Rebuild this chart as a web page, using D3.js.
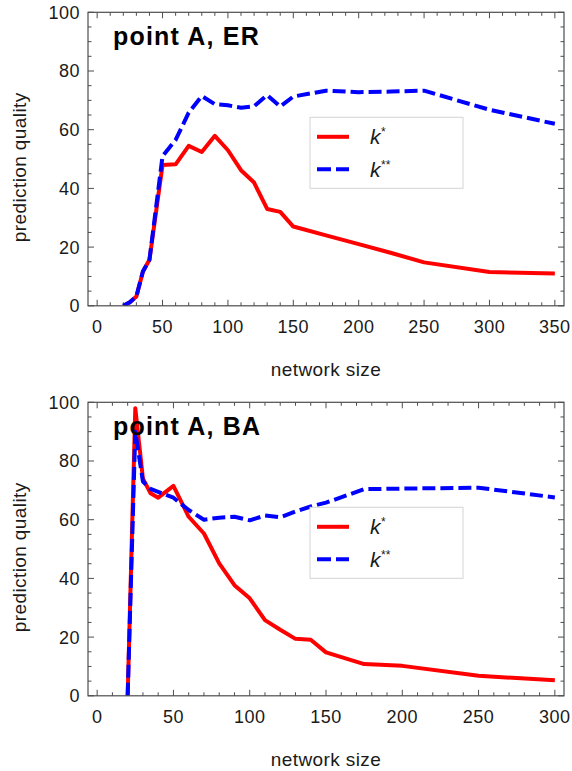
<!DOCTYPE html>
<html>
<head>
<meta charset="utf-8">
<script src="https://cdn.jsdelivr.net/npm/d3@7"></script>
<style>
  html, body { margin: 0; padding: 0; background: #fff; }
  svg text { font-family: "Liberation Sans", Arial, sans-serif; fill: #1a1a1a; }
</style>
</head>
<body>
<div id="chart"></div>
<script>
// network sizes and prediction quality
var erSizes   = [20, 25, 30, 35, 40, 50, 60, 70, 80, 90, 100, 110, 120, 130, 140, 150, 175, 200, 225, 250, 300, 350];
var erKStar   = [0, 1.2, 3.2, 11.7, 15.7, 48, 48.2, 54.5, 52.4, 57.9, 53, 46.2, 42, 33, 32, 27, 24, 21, 18, 14.8, 11.5, 11];
var erKStar2  = [0, 1.2, 3.2, 11.7, 15.7, 51, 56.5, 65.8, 71.5, 68.7, 68.3, 67.5, 68, 71.8, 67.9, 71.3, 73.3, 72.8, 73, 73.3, 66.8, 62];

var baSizes   = [20, 25, 30, 35, 40, 50, 60, 70, 80, 90, 100, 110, 120, 130, 140, 150, 175, 200, 250, 300];
var baKStar   = [0, 98, 74, 69, 67.5, 71.5, 61, 55.3, 45.1, 37.7, 33.2, 25.8, 22.5, 19.4, 19.1, 14.8, 10.8, 10.2, 6.8, 5.3];
var baKStar2  = [0, 90, 73, 70.5, 69.5, 67.5, 63.3, 60, 60.7, 61, 59.8, 61.4, 60.8, 62.8, 64.5, 65.8, 70.4, 70.6, 70.9, 67.6];

var yTicks = [0, 20, 40, 60, 80, 100];
var seriesNames = ["k", "k"];
var seriesSup = ["*", "**"];

var width = 572,
    height = 771;

var svg = d3.select("#chart")
  .append("svg")
  .attr("width", width)
  .attr("height", height);

var panels = [
  { title: "point A, ER", top: 12.3, xMax: 350, sizes: erSizes, a: erKStar, b: erKStar2, id: "er" },
  { title: "point A, BA", top: 402.3, xMax: 300, sizes: baSizes, a: baKStar, b: baKStar2, id: "ba" }
];

var frameColor = "#4d4d4d";

panels.forEach(function(p) {
  var left = 88, right = 564,
      top = p.top, bottom = p.top + 293.5;
  var pad = p.xMax * 0.02;

  var x = d3.scaleLinear().domain([-pad, p.xMax + pad]).range([left, right]);
  var y = d3.scaleLinear().domain([0, 100]).range([bottom, top]);

  var g = svg.append("g");

  g.append("clipPath").attr("id", "clip-" + p.id)
    .append("rect")
    .attr("x", left).attr("y", top - 2)
    .attr("width", right - left).attr("height", bottom - top + 2);

  // frame ticks, inward on all four sides
  var xMajor = d3.range(0, p.xMax + 1, 50),
      xMinor = d3.range(0, p.xMax + 1, 10).filter(function(d) { return d % 50 !== 0; }),
      yMinor = d3.range(0, 101, 5).filter(function(d) { return d % 20 !== 0; });

  var ticks = g.append("g")
    .attr("stroke", frameColor)
    .attr("stroke-width", 1);

  [[xMajor, 6], [xMinor, 3.5]].forEach(function(t) {
    ticks.selectAll(null).data(t[0]).enter().append("line")
      .attr("x1", function(d) { return x(d); }).attr("x2", function(d) { return x(d); })
      .attr("y1", bottom).attr("y2", bottom - t[1]);
    ticks.selectAll(null).data(t[0]).enter().append("line")
      .attr("x1", function(d) { return x(d); }).attr("x2", function(d) { return x(d); })
      .attr("y1", top).attr("y2", top + t[1]);
  });
  [[yTicks, 6], [yMinor, 3.5]].forEach(function(t) {
    ticks.selectAll(null).data(t[0]).enter().append("line")
      .attr("y1", function(d) { return y(d); }).attr("y2", function(d) { return y(d); })
      .attr("x1", left).attr("x2", left + t[1]);
    ticks.selectAll(null).data(t[0]).enter().append("line")
      .attr("y1", function(d) { return y(d); }).attr("y2", function(d) { return y(d); })
      .attr("x1", right).attr("x2", right - t[1]);
  });

  // tick labels
  g.selectAll(".xlab").data(xMajor).enter().append("text")
    .attr("class", "xlab")
    .attr("x", function(d) { return x(d); })
    .attr("y", bottom + 27)
    .attr("text-anchor", "middle")
    .style("font-size", "18px")
    .style("letter-spacing", "0.5px")
    .text(function(d) { return d; });

  g.selectAll(".ylab").data(yTicks).enter().append("text")
    .attr("class", "ylab")
    .attr("x", left - 8)
    .attr("y", function(d) { return y(d); })
    .attr("dy", "0.36em")
    .attr("text-anchor", "end")
    .style("font-size", "18px")
    .style("letter-spacing", "0.5px")
    .text(function(d) { return d; });

  // axis titles
  g.append("text")
    .attr("x", 326)
    .attr("y", bottom + 70)
    .attr("text-anchor", "middle")
    .style("font-size", "19px")
    .style("letter-spacing", "0.4px")
    .text("network size");

  g.append("text")
    .attr("transform", "translate(26," + (top + 155) + ")rotate(-90)")
    .attr("text-anchor", "middle")
    .style("font-size", "19px")
    .style("letter-spacing", "0.4px")
    .text("prediction quality");

  // curves
  var rows = p.sizes.map(function(s, i) { return { size: s, a: p.a[i], b: p.b[i] }; });

  var lineA = d3.line().x(function(d) { return x(d.size); }).y(function(d) { return y(d.a); });
  var lineB = d3.line().x(function(d) { return x(d.size); }).y(function(d) { return y(d.b); });

  var curves = g.append("g").attr("clip-path", "url(#clip-" + p.id + ")");

  curves.append("path")
    .datum(rows)
    .attr("d", lineA)
    .attr("fill", "none")
    .attr("stroke", "#ff0000")
    .attr("stroke-width", 4)
    .attr("stroke-linejoin", "round");

  curves.append("path")
    .datum(rows)
    .attr("d", lineB)
    .attr("fill", "none")
    .attr("stroke", "#0000ff")
    .attr("stroke-width", 4)
    .attr("stroke-linejoin", "round")
    .attr("stroke-dasharray", "13,5");

  // frame
  g.append("rect")
    .attr("x", left).attr("y", top)
    .attr("width", right - left).attr("height", bottom - top)
    .attr("fill", "none")
    .attr("stroke", frameColor)
    .attr("stroke-width", 1.2);

  // panel title
  g.append("text")
    .attr("x", 113)
    .attr("y", top + 33)
    .style("font-size", "25px")
    .style("font-weight", "bold")
    .style("letter-spacing", "1.2px")
    .style("fill", "#000")
    .text(p.title);

  // legend
  var lg = g.append("g").attr("transform", "translate(310," + (top + 105) + ")");
  lg.append("rect")
    .attr("width", 153).attr("height", 71)
    .attr("fill", "#fff")
    .attr("stroke", "#d4d4d4")
    .attr("stroke-width", 1);

  var items = lg.selectAll(".item").data(seriesNames).enter().append("g")
    .attr("class", "item")
    .attr("transform", function(d, i) { return "translate(0," + (19.5 + i * 32.5) + ")"; });

  items.append("line")
    .attr("x1", 7).attr("x2", 39)
    .attr("stroke", function(d, i) { return i === 0 ? "#ff0000" : "#0000ff"; })
    .attr("stroke-width", 4)
    .attr("stroke-dasharray", function(d, i) { return i === 0 ? null : "14,5"; });

  var lt = items.append("text")
    .attr("x", 60)
    .attr("y", 7.5)
    .style("font-size", "21px")
    .style("font-style", "italic");
  lt.append("tspan").text(function(d) { return d; });
  lt.append("tspan")
    .attr("dy", -8)
    .style("font-size", "12px")
    .text(function(d, i) { return seriesSup[i]; });
});
</script>
</body>
</html>
